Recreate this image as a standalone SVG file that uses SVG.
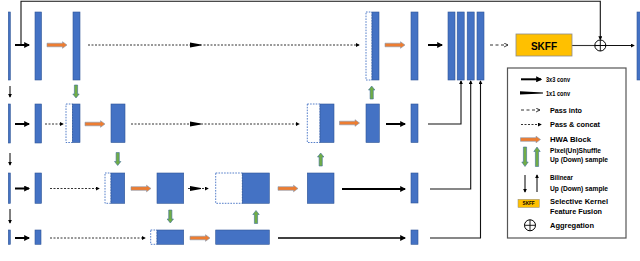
<svg xmlns="http://www.w3.org/2000/svg" width="640" height="261" viewBox="0 0 640 261">
<defs>
<style>
.b{fill:#4472C4;stroke:#2F5597;stroke-width:0.6}
.d{fill:none;stroke:#4472C4;stroke-width:0.9;stroke-dasharray:1.6 1.2}
.hwa{fill:#ED7D31;stroke:#8497B0;stroke-width:0.6}
.ps{fill:#70AD47;stroke:#41719C;stroke-width:0.6}
.c3{stroke:#000;stroke-width:2;fill:none;marker-end:url(#ah)}
.c3b{stroke:#000;stroke-width:1.5;fill:none;marker-end:url(#ah)}
.cn{stroke:#111;stroke-width:1.1;fill:none;marker-end:url(#as)}
.pc{stroke:#333;stroke-width:1;stroke-dasharray:2 1.5;fill:none;marker-end:url(#as)}
.pi{stroke:#333;stroke-width:1;stroke-dasharray:3 2.5;fill:none;marker-end:url(#ao)}
.bl{stroke:#000;stroke-width:1;fill:none;marker-end:url(#as)}
.t{font-family:"Liberation Sans",Arial,sans-serif;font-weight:bold;font-size:6.8px;fill:#000}
</style>
<marker id="ah" markerUnits="userSpaceOnUse" viewBox="0 0 10 10" refX="8" refY="5" markerWidth="6" markerHeight="6" orient="auto"><path d="M0,0 L10,5 L0,10 Z" fill="#000"/></marker>
<marker id="as" markerUnits="userSpaceOnUse" viewBox="0 0 10 10" refX="8" refY="5" markerWidth="4" markerHeight="4" orient="auto"><path d="M0,0 L10,5 L0,10 Z" fill="#000"/></marker>
<marker id="ao" markerUnits="userSpaceOnUse" viewBox="0 0 10 10" refX="9" refY="5" markerWidth="5" markerHeight="5" orient="auto"><path d="M1,1 L9,5 L1,9" fill="none" stroke="#333" stroke-width="1.8"/></marker>
<path id="hwa" class="hwa" d="M0,-1.8 H15.5 V-3.3 L20,0 L15.5,3.3 V1.8 H0 Z"/>
<path id="dn" class="ps" d="M-1.6,0 V9 H-3.2 L0,13 L3.2,9 H1.6 V0 Z"/>
<path id="up" class="ps" d="M-1.6,13 V4 H-3.2 L0,0 L3.2,4 H1.6 V13 Z"/>
<path id="wg" d="M0,-2.4 L11,-0.4 L11,0.4 L0,2.4 Z" fill="#000"/>
</defs>
<rect width="640" height="261" fill="#fff"/>

<g id="connectors">
  <!-- global skip -->
  <path class="cn" d="M21,45 V1.2 H600.3 V39.5" stroke-width="1.3"/>
  <!-- row 1 -->
  <line class="c3" x1="15" y1="45" x2="29" y2="45"/>
  <use href="#hwa" x="47" y="45"/>
  <line class="pc" x1="88" y1="45" x2="359" y2="45"/>
  <use href="#wg" x="190" y="45"/>
  <use href="#hwa" x="385" y="45"/>
  <line class="c3" x1="428" y1="45" x2="442" y2="45"/>
  <line class="pi" x1="490" y1="45" x2="508" y2="45"/>
  <line x1="572" y1="45.5" x2="600" y2="45.5" stroke="#333" stroke-width="1.1"/>
  <line class="cn" x1="600" y1="45.5" x2="634" y2="45.5" stroke="#333"/>
  <!-- row 2 -->
  <line class="c3" x1="15" y1="124" x2="29" y2="124"/>
  <line class="pc" x1="45" y1="124" x2="63" y2="124"/>
  <use href="#hwa" x="85" y="124"/>
  <line class="pc" x1="131" y1="124" x2="299" y2="124"/>
  <use href="#wg" x="190" y="124"/>
  <use href="#hwa" x="339.5" y="123"/>
  <line class="c3" x1="386" y1="124" x2="405" y2="124"/>
  <path class="cn" d="M428,124 H461 V81"/>
  <!-- row 3 -->
  <line class="c3" x1="15" y1="188.5" x2="29" y2="188.5"/>
  <line class="pc" x1="50" y1="188.5" x2="99" y2="188.5"/>
  <use href="#hwa" x="131" y="188.5"/>
  <line class="pc" x1="188" y1="188.5" x2="208" y2="188.5"/>
  <use href="#wg" x="190" y="188.5"/>
  <use href="#hwa" x="278" y="188.5"/>
  <line class="c3" x1="342" y1="189" x2="405" y2="189"/>
  <path class="cn" d="M430,189 H470.7 V81"/>
  <!-- row 4 -->
  <line class="c3" x1="15" y1="238" x2="29" y2="238"/>
  <line class="pc" x1="50" y1="238" x2="145" y2="238"/>
  <use href="#hwa" x="190" y="238"/>
  <line class="c3b" x1="278" y1="238" x2="405" y2="238"/>
  <path class="cn" d="M430,238 H480.5 V81"/>
  <!-- bilinear down between inputs -->
  <line class="bl" x1="10" y1="86" x2="10" y2="97"/>
  <line class="bl" x1="10" y1="153" x2="10" y2="165"/>
  <line class="bl" x1="10" y1="209" x2="10" y2="223"/>
  <!-- pixel (un)shuffle -->
  <use href="#dn" x="76" y="85"/>
  <use href="#dn" x="117.7" y="152.5"/>
  <use href="#dn" x="170.3" y="210"/>
  <use href="#up" x="256" y="210.5"/>
  <use href="#up" x="320.7" y="153"/>
  <use href="#up" x="371.7" y="86"/>
</g>

<!-- row 1 nodes -->
<g id="r1_in"><rect class="b" x="8.3" y="12" width="2" height="68"/></g>
<g id="r1_b1"><rect class="b" x="35" y="12" width="6.5" height="68"/></g>
<g id="r1_b2"><rect class="b" x="73" y="12" width="7" height="68"/></g>
<g id="r1_cat"><rect class="d" x="366" y="12" width="6" height="68"/><rect class="b" x="372" y="12" width="7" height="68"/></g>
<g id="r1_b3"><rect class="b" x="411" y="12" width="7" height="68"/></g>
<g id="stack"><rect class="b" x="448" y="12" width="7" height="68"/><rect class="b" x="457.2" y="12" width="7" height="68"/><rect class="b" x="467.2" y="12" width="7" height="68"/><rect class="b" x="477" y="12" width="7" height="68"/></g>
<g id="skff"><rect x="516" y="34" width="56" height="22" fill="#FFC000" stroke="#8C8C8C" stroke-width="0.8"/><text x="544" y="49.5" text-anchor="middle" font-family="Liberation Sans, Arial, sans-serif" font-weight="bold" font-size="10">SKFF</text></g>
<g id="agg"><circle cx="600.3" cy="45.5" r="5.5" fill="none" stroke="#000" stroke-width="1"/><line x1="594.8" y1="45.5" x2="605.8" y2="45.5" stroke="#000" stroke-width="0.9"/><line x1="600.3" y1="40" x2="600.3" y2="51" stroke="#000" stroke-width="0.9"/></g>
<g id="out"><rect class="b" x="637" y="12" width="5" height="68"/></g>

<!-- row 2 nodes -->
<g id="r2_in"><rect class="b" x="8.3" y="104" width="2" height="39"/></g>
<g id="r2_b1"><rect class="b" x="35" y="104" width="6.5" height="39"/></g>
<g id="r2_cat1"><rect class="d" x="66" y="104" width="6.5" height="38.5"/><rect class="b" x="72.5" y="104" width="7.5" height="38.5"/></g>
<g id="r2_b2"><rect class="b" x="111" y="104" width="14" height="38.5"/></g>
<g id="r2_cat2"><rect class="d" x="307.3" y="104" width="12.7" height="38.5"/><rect class="b" x="320" y="104" width="14" height="38.5"/></g>
<g id="r2_b3"><rect class="b" x="366" y="104" width="13.3" height="38.5"/></g>
<g id="r2_b4"><rect class="b" x="411" y="104" width="7" height="38.5"/></g>

<!-- row 3 nodes -->
<g id="r3_in"><rect class="b" x="8.3" y="173" width="2" height="30.3"/></g>
<g id="r3_b1"><rect class="b" x="35" y="173" width="6.5" height="30.3"/></g>
<g id="r3_cat1"><rect class="d" x="105" y="173" width="6" height="30.3"/><rect class="b" x="111" y="173" width="13.7" height="30.3"/></g>
<g id="r3_b2"><rect class="b" x="157" y="173" width="26.7" height="30.3"/></g>
<g id="r3_cat2"><rect class="d" x="215.7" y="173" width="26.6" height="30.3"/><rect class="b" x="242.3" y="173" width="27" height="30.3"/></g>
<g id="r3_b3"><rect class="b" x="307.3" y="173" width="26.7" height="30.3"/></g>
<g id="r3_b4"><rect class="b" x="411" y="173" width="7" height="30"/></g>

<!-- row 4 nodes -->
<g id="r4_in"><rect class="b" x="8.3" y="230" width="2" height="14.3"/></g>
<g id="r4_b1"><rect class="b" x="35" y="230" width="6" height="14.3"/></g>
<g id="r4_cat"><rect class="d" x="150.7" y="230" width="6.3" height="14.3"/><rect class="b" x="157" y="230" width="26.7" height="14.3"/></g>
<g id="r4_b2"><rect class="b" x="215.7" y="230" width="53.6" height="14.3"/></g>
<g id="r4_b3"><rect class="b" x="411" y="230" width="7" height="14.3"/></g>

<!-- legend -->
<g id="legend">
  <rect x="507.5" y="68" width="118.5" height="170" fill="#fff" stroke="#555" stroke-width="1.2"/>
  <line class="c3" x1="521" y1="79.3" x2="541" y2="79.3"/>
  <text class="t" x="546" y="81.8" textLength="24" lengthAdjust="spacingAndGlyphs">3x3 conv</text>
  <path d="M520,91.2 L543,92.6 L543,93.4 L520,94.6 Z" fill="#000"/>
  <text class="t" x="546" y="95.8" textLength="24" lengthAdjust="spacingAndGlyphs">1x1 conv</text>
  <line class="pi" x1="521" y1="110" x2="540" y2="110"/>
  <text class="t" x="550" y="112.5" textLength="32" lengthAdjust="spacingAndGlyphs">Pass into</text>
  <line class="pc" x1="521" y1="124.5" x2="541" y2="124.5"/>
  <text class="t" x="550" y="127" textLength="50" lengthAdjust="spacingAndGlyphs">Pass &amp; concat</text>
  <use href="#hwa" x="520.5" y="139.5"/>
  <text class="t" x="550" y="142.3" textLength="41" lengthAdjust="spacingAndGlyphs">HWA Block</text>
  <path class="ps" d="M523.4,147 V162 H521.8 L525,166.5 L528.2,162 H526.6 V147 Z"/>
  <path class="ps" d="M535.4,166.5 V151.5 H533.8 L537,147 L540.2,151.5 H538.6 V166.5 Z"/>
  <text class="t" x="550" y="152.6" textLength="51" lengthAdjust="spacingAndGlyphs">Pixel(Un)Shuffle</text>
  <text class="t" x="550" y="162" textLength="58" lengthAdjust="spacingAndGlyphs">Up (Down) sample</text>
  <line class="bl" x1="525" y1="175" x2="525" y2="192"/>
  <line class="bl" x1="537" y1="192" x2="537" y2="175"/>
  <text class="t" x="550" y="180" textLength="23" lengthAdjust="spacingAndGlyphs">Bilinear</text>
  <text class="t" x="550" y="190.5" textLength="58" lengthAdjust="spacingAndGlyphs">Up (Down) sample</text>
  <rect x="518" y="199.3" width="21.3" height="8.2" fill="#FFC000" stroke="#8C8C8C" stroke-width="0.5"/>
  <text x="528.6" y="205.2" text-anchor="middle" font-family="Liberation Sans, Arial, sans-serif" font-weight="bold" font-size="4.6">SKFF</text>
  <text class="t" x="550" y="204.2" textLength="58" lengthAdjust="spacingAndGlyphs">Selective Kernel</text>
  <text class="t" x="550" y="214.2" textLength="52" lengthAdjust="spacingAndGlyphs">Feature Fusion</text>
  <circle cx="530" cy="225.3" r="5.5" fill="none" stroke="#000" stroke-width="1"/>
  <line x1="524.5" y1="225.3" x2="535.5" y2="225.3" stroke="#000" stroke-width="0.9"/>
  <line x1="530" y1="219.8" x2="530" y2="230.8" stroke="#000" stroke-width="0.9"/>
  <text class="t" x="550" y="227.8" textLength="44" lengthAdjust="spacingAndGlyphs">Aggregation</text>
</g>
</svg>
